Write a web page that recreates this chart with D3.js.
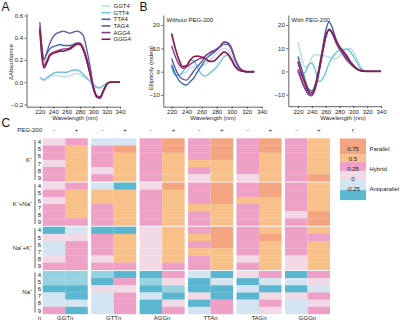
<!DOCTYPE html>
<html>
<head>
<meta charset="utf-8">
<script src="https://cdn.jsdelivr.net/npm/d3@7"></script>
<style>
  body { margin: 0; background: #fff; }
  svg { font-family: "Liberation Sans", Arial, sans-serif; }
  .axis path, .axis line { stroke: #222; stroke-width: 0.7; }
  .axis text { font-size: 6px; fill: #222; font-family: "Liberation Sans", Arial, sans-serif; }
  .lbl { font-size: 6px; fill: #222; }
  .panel { font-size: 12px; fill: #111; }
</style>
</head>
<body>
<svg id="main"></svg>
<script>
var w = 400;
var h = 323;

// ---- curve data ----
var seriesNames = ["GGT4", "GTT4", "TTA4", "TAG4", "AGG4", "GGG4"];
var seriesColors = ["#bcdbea", "#6cc5d8", "#3d66b0", "#6a56a8", "#8b3c8d", "#8b1d4b"];

// A: thermal difference absorbance
var absWl = [220,223,226,230,235,240,245,250,255,260,265,270,275,280,285,290,295,300,305,310,315,320,325,330,340];
var absGGT4 = [0.04,0.03,0.02,0.03,0.05,0.06,0.06,0.055,0.05,0.05,0.06,0.07,0.08,0.07,0.05,0.03,0.01,-0.02,-0.045,-0.05,-0.03,-0.01,0,0,0];
var absGTT4 = [0.04,0.03,0.02,0.04,0.06,0.08,0.09,0.09,0.09,0.09,0.1,0.11,0.11,0.1,0.07,0.04,0.01,-0.02,-0.045,-0.05,-0.03,-0.01,0,0,0];
var absTTA4 = [0.5,0.3,0.2,0.25,0.3,0.32,0.33,0.34,0.33,0.33,0.33,0.34,0.35,0.35,0.31,0.22,0.1,-0.04,-0.12,-0.13,-0.08,-0.02,0,0,0];
var absTAG4 = [0.54,0.33,0.2,0.26,0.35,0.41,0.44,0.45,0.46,0.45,0.44,0.45,0.46,0.45,0.42,0.3,0.15,-0.03,-0.12,-0.14,-0.08,-0.02,0,0,0];
var absAGG4 = [0.49,0.26,0.15,0.19,0.25,0.27,0.28,0.29,0.3,0.3,0.31,0.33,0.35,0.35,0.3,0.2,0.08,-0.05,-0.13,-0.14,-0.08,-0.02,0,0,0];
var absGGG4 = [0.47,0.24,0.13,0.17,0.24,0.26,0.27,0.28,0.28,0.29,0.3,0.32,0.34,0.34,0.29,0.2,0.08,-0.05,-0.13,-0.14,-0.08,-0.02,0,0,0];

// B left: CD without PEG-200
var cdWl = [220,225,230,235,240,245,250,255,260,265,270,275,280,285,290,295,300,305,310,315,320,330];
var cdGGT4 = [3.2,0.5,-1.4,-0.8,0,1.8,2.1,2.3,2.6,3.2,4.7,6.2,7.9,9.2,10,9.4,7,3.5,1,0.3,0,0];
var cdGTT4 = [2,-1.5,-1.5,0,2.5,5,4.5,1.5,-1.2,-1.9,-0.9,0.5,2,4.2,6.5,7,5.5,2.5,0.8,0.2,0,0];
var cdTTA4 = [2.9,-1,-3.8,-5.2,-5.7,-4.2,-2.5,0.3,2.5,5.2,6.7,7.9,9.3,10.7,11.8,11.6,9.5,5,1.8,0.5,0,0];
var cdTAG4 = [5.7,1.5,-1.8,-3.2,-3.6,-1.8,0.5,2.5,4.3,6.8,7.8,8.5,9.8,11,12.7,12.3,10,5,1.8,0.5,0,0];
var cdAGG4 = [11.1,6.5,3,1.5,2,3.2,4.3,5.2,5.9,6.6,8,8.9,9.4,11,12.8,12.3,9.5,5,1.8,0.5,0,0];
var cdGGG4 = [16.4,10,5,2.2,2.6,5,6.5,6.7,6.2,5.6,4.5,4.4,5.5,7.2,8.5,7.5,5,2,0.6,0.2,0,0];

// B right: CD with PEG-200
var pegWl = [220,225,230,235,240,245,250,255,260,265,270,275,280,285,290,295,300,305,310,315,320,330,340];
var pegGGT4 = [12.6,6.5,1.8,2.5,6,7.2,7.1,7,6.6,6.2,5.8,5.5,6.5,8.3,9.6,10,8.5,5.5,2.5,0.5,0,0,0];
var pegGTT4 = [0.7,-1.9,-0.5,2.5,3.6,0.5,-4.3,-3.5,-0.5,3.5,6.2,8,9.3,9.5,9.6,8.8,6.5,4,1.5,0.3,0,0,0];
var pegTTA4 = [6.4,1.5,-3.5,-7.5,-8.4,-5.5,1,9,17.5,21.3,18.5,13.8,10.5,8,6,4.3,2.8,1.3,0.5,0.2,0,0,0];
var pegTAG4 = [0.2,-4,-7.5,-10,-10.5,-7.5,-1,7,14.5,17.9,16,12.3,9.5,7.2,5,3.5,2,1,0.4,0.1,0,0,0];
var pegAGG4 = [0.8,-3.5,-7,-9.5,-10,-7,-0.5,7.5,14.8,18,16.3,12.8,10,7.8,5.5,3.8,2.2,1,0.4,0.1,0,0,0];
var pegGGG4 = [4.3,-1,-5,-8.5,-9.3,-6.5,0,8,15,18.1,16.5,13.3,10.7,8.8,7,4.5,2.5,1.2,0.4,0.1,0,0,0];

// ---- heatmap data (r values), rows: K+ n4-9, K++Na+ n4-9, Na++K+ n4-9, Na+ n4-9 ----
var seqs = ["GGTn", "GTTn", "AGGn", "TTAn", "TAGn", "GGGn"];
var pegs = ["-", "+"];
var ions = ["K\u207A", "K\u207A+Na\u207A", "Na\u207A+K\u207A", "Na\u207A"];
var nVals = ["4", "5", "6", "7", "8", "9"];

var ggtMinus = [0.1,0.4,0.4,0.1,0.4,0.4, 0.1,0.4,0.1,0.4,0.4,0.4, -0.35,0.1,-0.1,-0.1,0.1,0.4, -0.2,-0.2,-0.35,-0.1,-0.1,0.4];
var ggtPlus  = [0.4,0.6,0.6,0.6,0.6,0.6, 0.4,0.6,0.6,0.6,0.6,0.4, -0.1,0.1,0.4,0.4,0.4,0.4, -0.2,-0.2,-0.35,-0.35,-0.1,-0.35];
var gttMinus = [-0.1,0.4,0.4,0.4,0.1,0.4, -0.1,0.6,0.6,0.4,0.4,0.4, -0.35,0.4,0.4,0.4,0.1,0.4, -0.2,-0.35,0.1,-0.1,-0.1,-0.1];
var gttPlus  = [-0.1,0.85,0.6,0.6,0.6,0.6, -0.35,0.6,0.6,0.6,0.6,0.6, -0.35,0.6,0.6,0.6,0.6,0.4, -0.35,0.4,0.1,0.4,0.4,0.4];
var aggMinus = [0.4,0.4,0.4,0.4,0.4,0.4, 0.1,0.4,0.4,0.4,0.4,0.4, 0.1,0.1,0.1,0.1,0.1,0.1, -0.35,-0.2,-0.35,-0.1,-0.35,-0.35];
var aggPlus  = [0.85,0.85,0.6,0.6,0.6,0.6, 0.85,0.6,0.6,0.6,0.6,0.6, 0.6,0.6,0.6,0.6,0.6,0.4, 0.4,0.1,-0.2,-0.35,0.1,0.4];
var ttaMinus = [0.4,0.4,0.4,0.6,0.4,0.1, 0.4,0.4,0.4,0.6,0.4,0.4, 0.4,0.6,0.4,0.6,0.4,0.4, -0.1,-0.35,-0.35,0.1,-0.35,-0.1];
var ttaPlus  = [0.85,0.85,0.85,0.6,0.6,0.6, 0.85,0.85,0.85,0.6,0.6,0.6, 0.85,0.85,0.85,0.6,0.6,0.6, -0.35,-0.1,-0.35,-0.35,0.4,0.4];
var tagMinus = [0.4,0.4,0.4,0.4,0.4,0.1, 0.4,0.4,0.6,0.4,0.4,0.4, 0.4,0.4,0.4,0.4,0.1,0.4, 0.1,-0.35,-0.1,-0.35,-0.1,-0.1];
var tagPlus  = [0.85,0.85,0.6,0.6,0.6,0.6, 0.85,0.85,0.6,0.6,0.6,0.6, 0.6,0.85,0.6,0.6,0.6,0.6, 0.4,-0.1,-0.35,0.1,0.4,0.1];
var gggMinus = [0.4,0.4,0.4,0.4,0.4,0.4, 0.4,0.4,0.4,0.4,0.1,0.4, 0.4,0.4,0.4,0.4,0.1,0.1, -0.35,-0.1,-0.35,0.1,-0.1,-0.1];
var gggPlus  = [0.6,0.6,0.6,0.6,0.6,0.85, 0.6,0.6,0.6,0.6,0.85,0.85, 0.6,0.4,0.6,0.6,0.6,0.6, 0.4,0.1,-0.1,0.4,0.1,0.4];

var legendTicks = [0.75, 0.5, 0.25, 0, -0.25];
var legendStops = [1.0, 0.6, 0.42, 0.19, -0.04, -0.29, -0.54];
var legendColors = ["#f3a480", "#f7c189", "#efa0c7", "#f2d9e6", "#d4e5f1", "#5bb7cf"];

var svg = d3.select("#main")
  .attr("width", w)
  .attr("height", h);

// ---------- line panels ----------
function linePanel(x, y, wl, sets, xTicks, yTicks, yFmt) {
  var x0 = x.range()[0], y0 = y.range()[0];
  svg.append("g")
    .attr("class", "axis")
    .attr("transform", "translate(0," + y0 + ")")
    .call(d3.axisBottom(x).tickValues(xTicks).tickSize(2).tickSizeOuter(0).tickPadding(1.5));
  svg.append("g")
    .attr("class", "axis")
    .attr("transform", "translate(" + x0 + ",0)")
    .call(d3.axisLeft(y).tickValues(yTicks).tickFormat(yFmt).tickSize(2).tickSizeOuter(0).tickPadding(1.5));

  var line = d3.line()
    .x(function(d) { return x(d[0]); })
    .y(function(d) { return y(d[1]); })
    .curve(d3.curveMonotoneX);

  sets.forEach(function(vals, i) {
    svg.append("path")
      .datum(wl.map(function(v, j) { return [v, vals[j]]; }))
      .attr("fill", "none")
      .attr("stroke", seriesColors[i])
      .attr("stroke-width", i == 5 ? 1.7 : 1.4)
      .attr("stroke-linejoin", "round")
      .attr("d", line);
  });
}

var xA = d3.scaleLinear().domain([200, 340]).range([26.5, 120]);
var yA = d3.scaleLinear().domain([-0.22, 0.62]).range([106.7, 13.3]);
linePanel(xA, yA, absWl, [absGGT4, absGTT4, absTTA4, absTAG4, absAGG4, absGGG4],
  d3.range(220, 341, 20), [-0.2, 0, 0.2, 0.4, 0.6], d3.format(".1f"));

var xB = d3.scaleLinear().domain([209, 340]).range([163.3, 261.7]);
var yB = d3.scaleLinear().domain([-15, 24.3]).range([106.7, 15]);
linePanel(xB, yB, cdWl, [cdGGT4, cdGTT4, cdTTA4, cdTAG4, cdAGG4, cdGGG4],
  d3.range(220, 341, 20), [-10, 0, 10, 20], d3.format("d"));

var xC = d3.scaleLinear().domain([206, 340]).range([288.3, 381]);
var yC = d3.scaleLinear().domain([-15, 24.3]).range([106.2, 15]);
linePanel(xC, yC, pegWl, [pegGGT4, pegGTT4, pegTTA4, pegTAG4, pegAGG4, pegGGG4],
  d3.range(220, 341, 20), [-10, 0, 10, 20], d3.format("d"));

// legend of A
var leg = svg.append("g");
seriesNames.forEach(function(name, i) {
  var ly = 6 + i * 6.65;
  leg.append("line")
    .attr("x1", 101.5).attr("x2", 110.5)
    .attr("y1", ly).attr("y2", ly)
    .attr("stroke", seriesColors[i])
    .attr("stroke-width", 1.6);
  leg.append("text")
    .attr("class", "lbl")
    .attr("x", 113.5).attr("y", ly + 2.1)
    .text(name);
});

// titles
svg.append("text").attr("class", "panel").attr("x", 1.5).attr("y", 11).text("A");
svg.append("text").attr("class", "panel").attr("x", 139.5).attr("y", 11).text("B");
svg.append("text").attr("class", "panel").attr("x", 1.5).attr("y", 127).text("C");

svg.append("text").attr("class", "lbl").attr("text-anchor", "middle")
  .attr("transform", "translate(13,62) rotate(-90)").text("\u0394Absorbance");
svg.append("text").attr("class", "lbl").attr("text-anchor", "middle")
  .attr("x", 75).attr("y", 119.5).text("Wavelength (nm)");
svg.append("text").attr("class", "lbl").attr("text-anchor", "middle")
  .attr("transform", "translate(153,68) rotate(-90)").text("Ellipticity (mdeg)");
svg.append("text").attr("class", "lbl").attr("text-anchor", "middle")
  .attr("x", 213).attr("y", 119.5).text("Wavelength (nm)");
svg.append("text").attr("class", "lbl").attr("text-anchor", "middle")
  .attr("x", 343).attr("y", 119.5).text("Wavelength (nm)");
svg.append("text").attr("class", "lbl").attr("x", 166.5).attr("y", 21.5).text("Without PEG-200");
svg.append("text").attr("class", "lbl").attr("x", 291.5).attr("y", 21.5).text("With PEG-200");

// ---------- heatmap ----------
var color = d3.scaleThreshold()
  .domain([-0.25, -0.15, 0, 0.25, 0.5, 0.75])
  .range(["#5bb7cf", "#97d2df", "#d4e5f1", "#f2d9e6", "#efa0c7", "#f7c189", "#f3a480"]);

var colData = [ggtMinus, ggtPlus, gttMinus, gttPlus, aggMinus, aggPlus,
               ttaMinus, ttaPlus, tagMinus, tagPlus, gggMinus, gggPlus];

var gy = d3.scaleBand().domain(ions).range([138.3, 314]).paddingInner(0.025);
var ry = d3.scaleBand().domain(nVals).range([0, gy.bandwidth()]);
var gx = d3.scaleBand().domain(seqs).range([42.7, 330]).paddingInner(0.07);
var px = d3.scaleBand().domain(pegs).range([0, gx.bandwidth()]);

var cells = [];
seqs.forEach(function(s, si) {
  pegs.forEach(function(p, pi) {
    colData[si * 2 + pi].forEach(function(v, k) {
      cells.push({ seq: s, peg: p, ion: ions[Math.floor(k / 6)], n: nVals[k % 6], r: v });
    });
  });
});

svg.append("g").selectAll("rect")
  .data(cells)
  .enter()
  .append("rect")
  .attr("x", function(d) { return gx(d.seq) + px(d.peg); })
  .attr("y", function(d) { return gy(d.ion) + ry(d.n); })
  .attr("width", px.bandwidth())
  .attr("height", ry.bandwidth() + 0.2)
  .attr("fill", function(d) { return color(d.r); });

// header
svg.append("text").attr("class", "lbl").attr("text-anchor", "end")
  .attr("x", 42).attr("y", 132).text("PEG-200");
seqs.forEach(function(s) {
  pegs.forEach(function(p) {
    svg.append("text").attr("class", "lbl").attr("text-anchor", "middle")
      .attr("x", gx(s) + px(p) + px.bandwidth() / 2).attr("y", 132)
      .text(p);
  });
  svg.append("text").attr("class", "lbl").attr("text-anchor", "middle")
    .attr("x", gx(s) + gx.bandwidth() / 2).attr("y", 320)
    .text(s);
});

// row labels + brackets
ions.forEach(function(ion) {
  var top = gy(ion);
  svg.append("line")
    .attr("x1", 35).attr("x2", 35)
    .attr("y1", top + 1.5).attr("y2", top + gy.bandwidth() - 1.5)
    .attr("stroke", "#222").attr("stroke-width", 0.7);
  svg.append("text").attr("class", "lbl").attr("text-anchor", "end")
    .attr("x", 32).attr("y", top + gy.bandwidth() / 2 + 2)
    .text(ion);
  nVals.forEach(function(n) {
    svg.append("text").attr("class", "lbl").attr("text-anchor", "end")
      .attr("x", 41.2).attr("y", top + ry(n) + ry.bandwidth() / 2 + 2.1)
      .text(n);
  });
});
svg.append("text").attr("class", "lbl").attr("text-anchor", "end")
  .attr("x", 41.2).attr("y", 320).text("n");

// colour legend
var ly = d3.scaleLinear().domain([0, 1]).range([178.5, 138.5]);
legendColors.forEach(function(c, i) {
  svg.append("rect")
    .attr("x", 340).attr("width", 26)
    .attr("y", ly(legendStops[i]))
    .attr("height", ly(legendStops[i + 1]) - ly(legendStops[i]))
    .attr("fill", c);
});
legendTicks.forEach(function(t) {
  svg.append("text").attr("class", "lbl").attr("text-anchor", "middle")
    .attr("x", 353).attr("y", ly(t) + 2.1)
    .text(t);
});
svg.append("text").attr("class", "lbl").attr("text-anchor", "middle")
  .attr("x", 353).attr("y", 132).text("r");
[["Parallel", 0.75], ["Hybrid", 0.25], ["Antiparallel", -0.25]].forEach(function(d) {
  svg.append("text").attr("class", "lbl")
    .attr("x", 369.5).attr("y", ly(d[1]) + 2.1)
    .text(d[0]);
});
</script>
</body>
</html>
